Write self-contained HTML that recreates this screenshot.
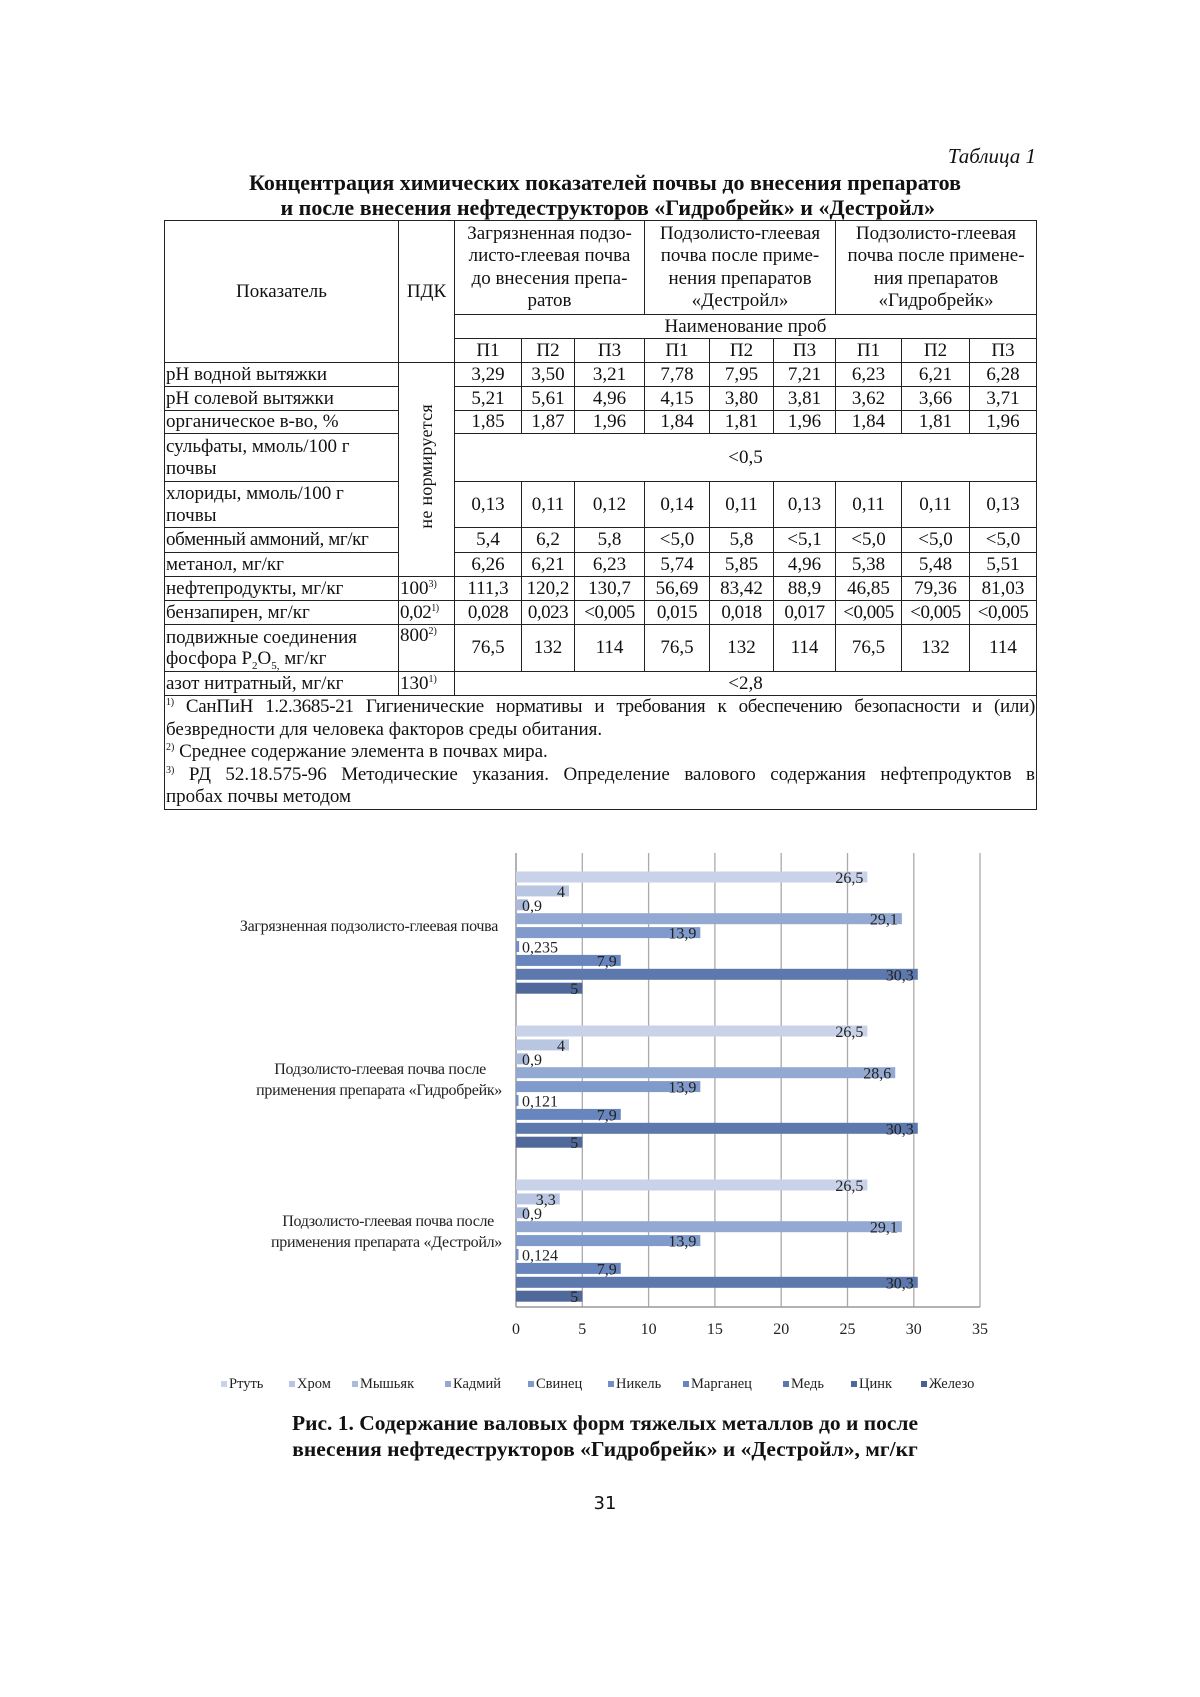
<!DOCTYPE html>
<html><head><meta charset="utf-8"><style>
html,body{margin:0;padding:0;background:#fff;}
body{width:1200px;height:1697px;position:relative;overflow:hidden;font-family:"Liberation Serif",serif;color:#111;}
.abs{position:absolute;}
table{position:absolute;left:164px;top:220px;border-collapse:collapse;table-layout:fixed;font-size:19px;line-height:21.5px;}
td{border:1.5px solid #222;padding:0 1px;text-align:center;vertical-align:middle;overflow:hidden;white-space:nowrap;}
td.l{text-align:left;}
sup{font-size:10px;line-height:0;vertical-align:7px;}
sub{font-size:11px;line-height:0;}
.vert{writing-mode:vertical-rl;transform:rotate(180deg);display:inline-block;font-size:18px;letter-spacing:0.3px;}
</style></head><body>
<div class="abs" style="right:164px;top:144px;font-style:italic;font-size:21px;">Таблица 1</div>
<div class="abs" style="left:0;width:1210px;top:170px;text-align:center;font-weight:bold;font-size:22px;line-height:25px;">Концентрация химических показателей почвы до внесения препаратов<br>&nbsp;и после внесения нефтедеструкторов «Гидробрейк» и «Дестройл»</div>
<table>
<colgroup><col style="width:234px"><col style="width:56px"><col style="width:67px"><col style="width:53px"><col style="width:70px"><col style="width:65px"><col style="width:64px"><col style="width:62px"><col style="width:66px"><col style="width:68px"><col style="width:67px"></colgroup>
<tr style="height:94px"><td rowspan="3">Показатель</td><td rowspan="3">ПДК</td><td colspan="3" style="line-height:22.5px">Загрязненная подзо-<br>листо-глеевая почва<br>до внесения препа-<br>ратов</td><td colspan="3" style="line-height:22.5px">Подзолисто-глеевая<br>почва после приме-<br>нения препаратов<br>«Дестройл»</td><td colspan="3" style="line-height:22.5px">Подзолисто-глеевая<br>почва после примене-<br>ния препаратов<br>«Гидробрейк»</td></tr>
<tr style="height:24px"><td colspan="9">Наименование проб</td></tr>
<tr style="height:24px"><td>П1</td><td>П2</td><td>П3</td><td>П1</td><td>П2</td><td>П3</td><td>П1</td><td>П2</td><td>П3</td></tr>
<tr style="height:24px"><td class="l">pH водной вытяжки</td><td rowspan="7"><span class="vert">не нормируется</span></td><td>3,29</td><td>3,50</td><td>3,21</td><td>7,78</td><td>7,95</td><td>7,21</td><td>6,23</td><td>6,21</td><td>6,28</td></tr>
<tr style="height:24px"><td class="l">pH солевой вытяжки</td><td>5,21</td><td>5,61</td><td>4,96</td><td>4,15</td><td>3,80</td><td>3,81</td><td>3,62</td><td>3,66</td><td>3,71</td></tr>
<tr style="height:23px"><td class="l">органическое в-во, %</td><td>1,85</td><td>1,87</td><td>1,96</td><td>1,84</td><td>1,81</td><td>1,96</td><td>1,84</td><td>1,81</td><td>1,96</td></tr>
<tr style="height:48px"><td class="l">сульфаты, ммоль/100 г<br>почвы</td><td colspan="9">&lt;0,5</td></tr>
<tr style="height:46px"><td class="l">хлориды, ммоль/100 г<br>почвы</td><td>0,13</td><td>0,11</td><td>0,12</td><td>0,14</td><td>0,11</td><td>0,13</td><td>0,11</td><td>0,11</td><td>0,13</td></tr>
<tr style="height:25px"><td class="l" style="letter-spacing:-0.4px">обменный аммоний, мг/кг</td><td>5,4</td><td>6,2</td><td>5,8</td><td>&lt;5,0</td><td>5,8</td><td>&lt;5,1</td><td>&lt;5,0</td><td>&lt;5,0</td><td>&lt;5,0</td></tr>
<tr style="height:24px"><td class="l">метанол, мг/кг</td><td>6,26</td><td>6,21</td><td>6,23</td><td>5,74</td><td>5,85</td><td>4,96</td><td>5,38</td><td>5,48</td><td>5,51</td></tr>
<tr style="height:24px"><td class="l">нефтепродукты, мг/кг</td><td class="l">100<sup>3)</sup></td><td>111,3</td><td>120,2</td><td>130,7</td><td>56,69</td><td>83,42</td><td>88,9</td><td>46,85</td><td>79,36</td><td>81,03</td></tr>
<tr style="height:24px;letter-spacing:-0.5px"><td class="l" style="letter-spacing:0">бензапирен, мг/кг</td><td class="l">0,02<sup>1)</sup></td><td>0,028</td><td>0,023</td><td>&lt;0,005</td><td>0,015</td><td>0,018</td><td>0,017</td><td>&lt;0,005</td><td>&lt;0,005</td><td>&lt;0,005</td></tr>
<tr style="height:47px"><td class="l">подвижные соединения<br>фосфора P<sub>2</sub>O<sub>5,</sub> мг/кг</td><td class="l" style="vertical-align:top">800<sup>2)</sup></td><td>76,5</td><td>132</td><td>114</td><td>76,5</td><td>132</td><td>114</td><td>76,5</td><td>132</td><td>114</td></tr>
<tr style="height:24px"><td class="l">азот нитратный, мг/кг</td><td class="l">130<sup>1)</sup></td><td colspan="9">&lt;2,8</td></tr>
<tr style="height:113px"><td colspan="11" class="l" style="vertical-align:top;padding-top:0;line-height:22.5px;white-space:normal;"><span style="display:block;text-align:justify;text-align-last:justify;letter-spacing:-0.3px"><sup>1)</sup> СанПиН 1.2.3685-21 Гигиенические нормативы и требования к обеспечению безопасности и (или)</span>безвредности для человека факторов среды обитания.<br><sup>2)</sup> Среднее содержание элемента в почвах мира.<br><span style="display:block;text-align:justify;text-align-last:justify"><sup>3)</sup> РД 52.18.575-96 Методические указания. Определение валового содержания нефтепродуктов в</span>пробах почвы методом</td></tr>
</table>

<svg class="abs" style="left:0;top:0" width="1200" height="1697" font-family="Liberation Serif, serif">
<g stroke="#aaa" stroke-width="1.3">
<line x1="582.3" y1="853" x2="582.3" y2="1307"/><line x1="648.6" y1="853" x2="648.6" y2="1307"/><line x1="714.9" y1="853" x2="714.9" y2="1307"/><line x1="781.2" y1="853" x2="781.2" y2="1307"/><line x1="847.5" y1="853" x2="847.5" y2="1307"/><line x1="913.8" y1="853" x2="913.8" y2="1307"/><line x1="980" y1="853" x2="980" y2="1307"/>
</g>
<line x1="516" y1="853" x2="516" y2="1307" stroke="#999" stroke-width="1.5"/>
<line x1="516" y1="1307" x2="980" y2="1307" stroke="#999" stroke-width="1.5"/>
<g id="bars" font-size="16" fill="#222"></g>
<g font-size="16" fill="#222" text-anchor="middle">
<text x="516" y="1334">0</text><text x="582.3" y="1334">5</text><text x="648.6" y="1334">10</text><text x="714.9" y="1334">15</text><text x="781.2" y="1334">20</text><text x="847.5" y="1334">25</text><text x="913.8" y="1334">30</text><text x="980" y="1334">35</text>
</g>
<g font-size="16" fill="#222" text-anchor="end" letter-spacing="-0.3">
<text x="498" y="931">Загрязненная подзолисто-глеевая почва</text>
<text x="486" y="1074">Подзолисто-глеевая  почва после</text>
<text x="502" y="1095">применения  препарата «Гидробрейк»</text>
<text x="494" y="1226">Подзолисто-глеевая  почва после</text>
<text x="502" y="1247">применения  препарата «Дестройл»</text>
</g>
<g id="legend" font-size="14.5" fill="#222"></g>
</svg>
<script>
var cols=["#c8d2e8","#b9c6e2","#abbadb","#93a9d1","#7f9acb","#7390c4","#6886bd","#5c78ad","#51699a","#4a6292"];
var data=[[26.5,4,0.9,29.1,13.9,0.235,7.9,30.3,5],[26.5,4,0.9,28.6,13.9,0.121,7.9,30.3,5],[26.5,3.3,0.9,29.1,13.9,0.124,7.9,30.3,5]];
var starts=[877,1031,1185];var x0=516,u=13.26;var g=document.getElementById('bars');var s='';
data.forEach(function(d,gi){d.forEach(function(v,i){var cy=starts[gi]+i*13.9;var w=Math.max(v*u,2.5);
s+='<rect x="'+x0+'" y="'+(cy-5.5)+'" width="'+w+'" height="11" fill="'+cols[i]+'"/>';
var lab=String(v).replace('.',',');
if(v<2){s+='<text x="'+(x0+6)+'" y="'+(cy+6)+'">'+lab+'</text>';}
else{s+='<text x="'+(x0+w-4)+'" y="'+(cy+6)+'" text-anchor="end">'+lab+'</text>';}
});});
g.innerHTML=s;
var names=["Ртуть","Хром","Мышьяк","Кадмий","Свинец","Никель","Марганец","Медь","Цинк","Железо"];
var xs=[221,289,352,445,528,608,683,783,851,921];var l='';
names.forEach(function(n,i){l+='<rect x="'+xs[i]+'" y="1381" width="6" height="6" fill="'+cols[i]+'"/><text x="'+(xs[i]+8)+'" y="1388">'+n+'</text>';});
document.getElementById('legend').innerHTML=l;
</script>
<div class="abs" style="left:0;width:1210px;top:1410px;text-align:center;font-weight:bold;font-size:21.5px;line-height:26px;">Рис. 1. Содержание валовых форм тяжелых металлов до и после<br>внесения нефтедеструкторов «Гидробрейк» и «Дестройл», мг/кг</div>
<div class="abs" style="left:0;width:1210px;top:1493px;text-align:center;font-family:'DejaVu Sans','Liberation Sans',sans-serif;font-size:18px;">31</div>
</body></html>
